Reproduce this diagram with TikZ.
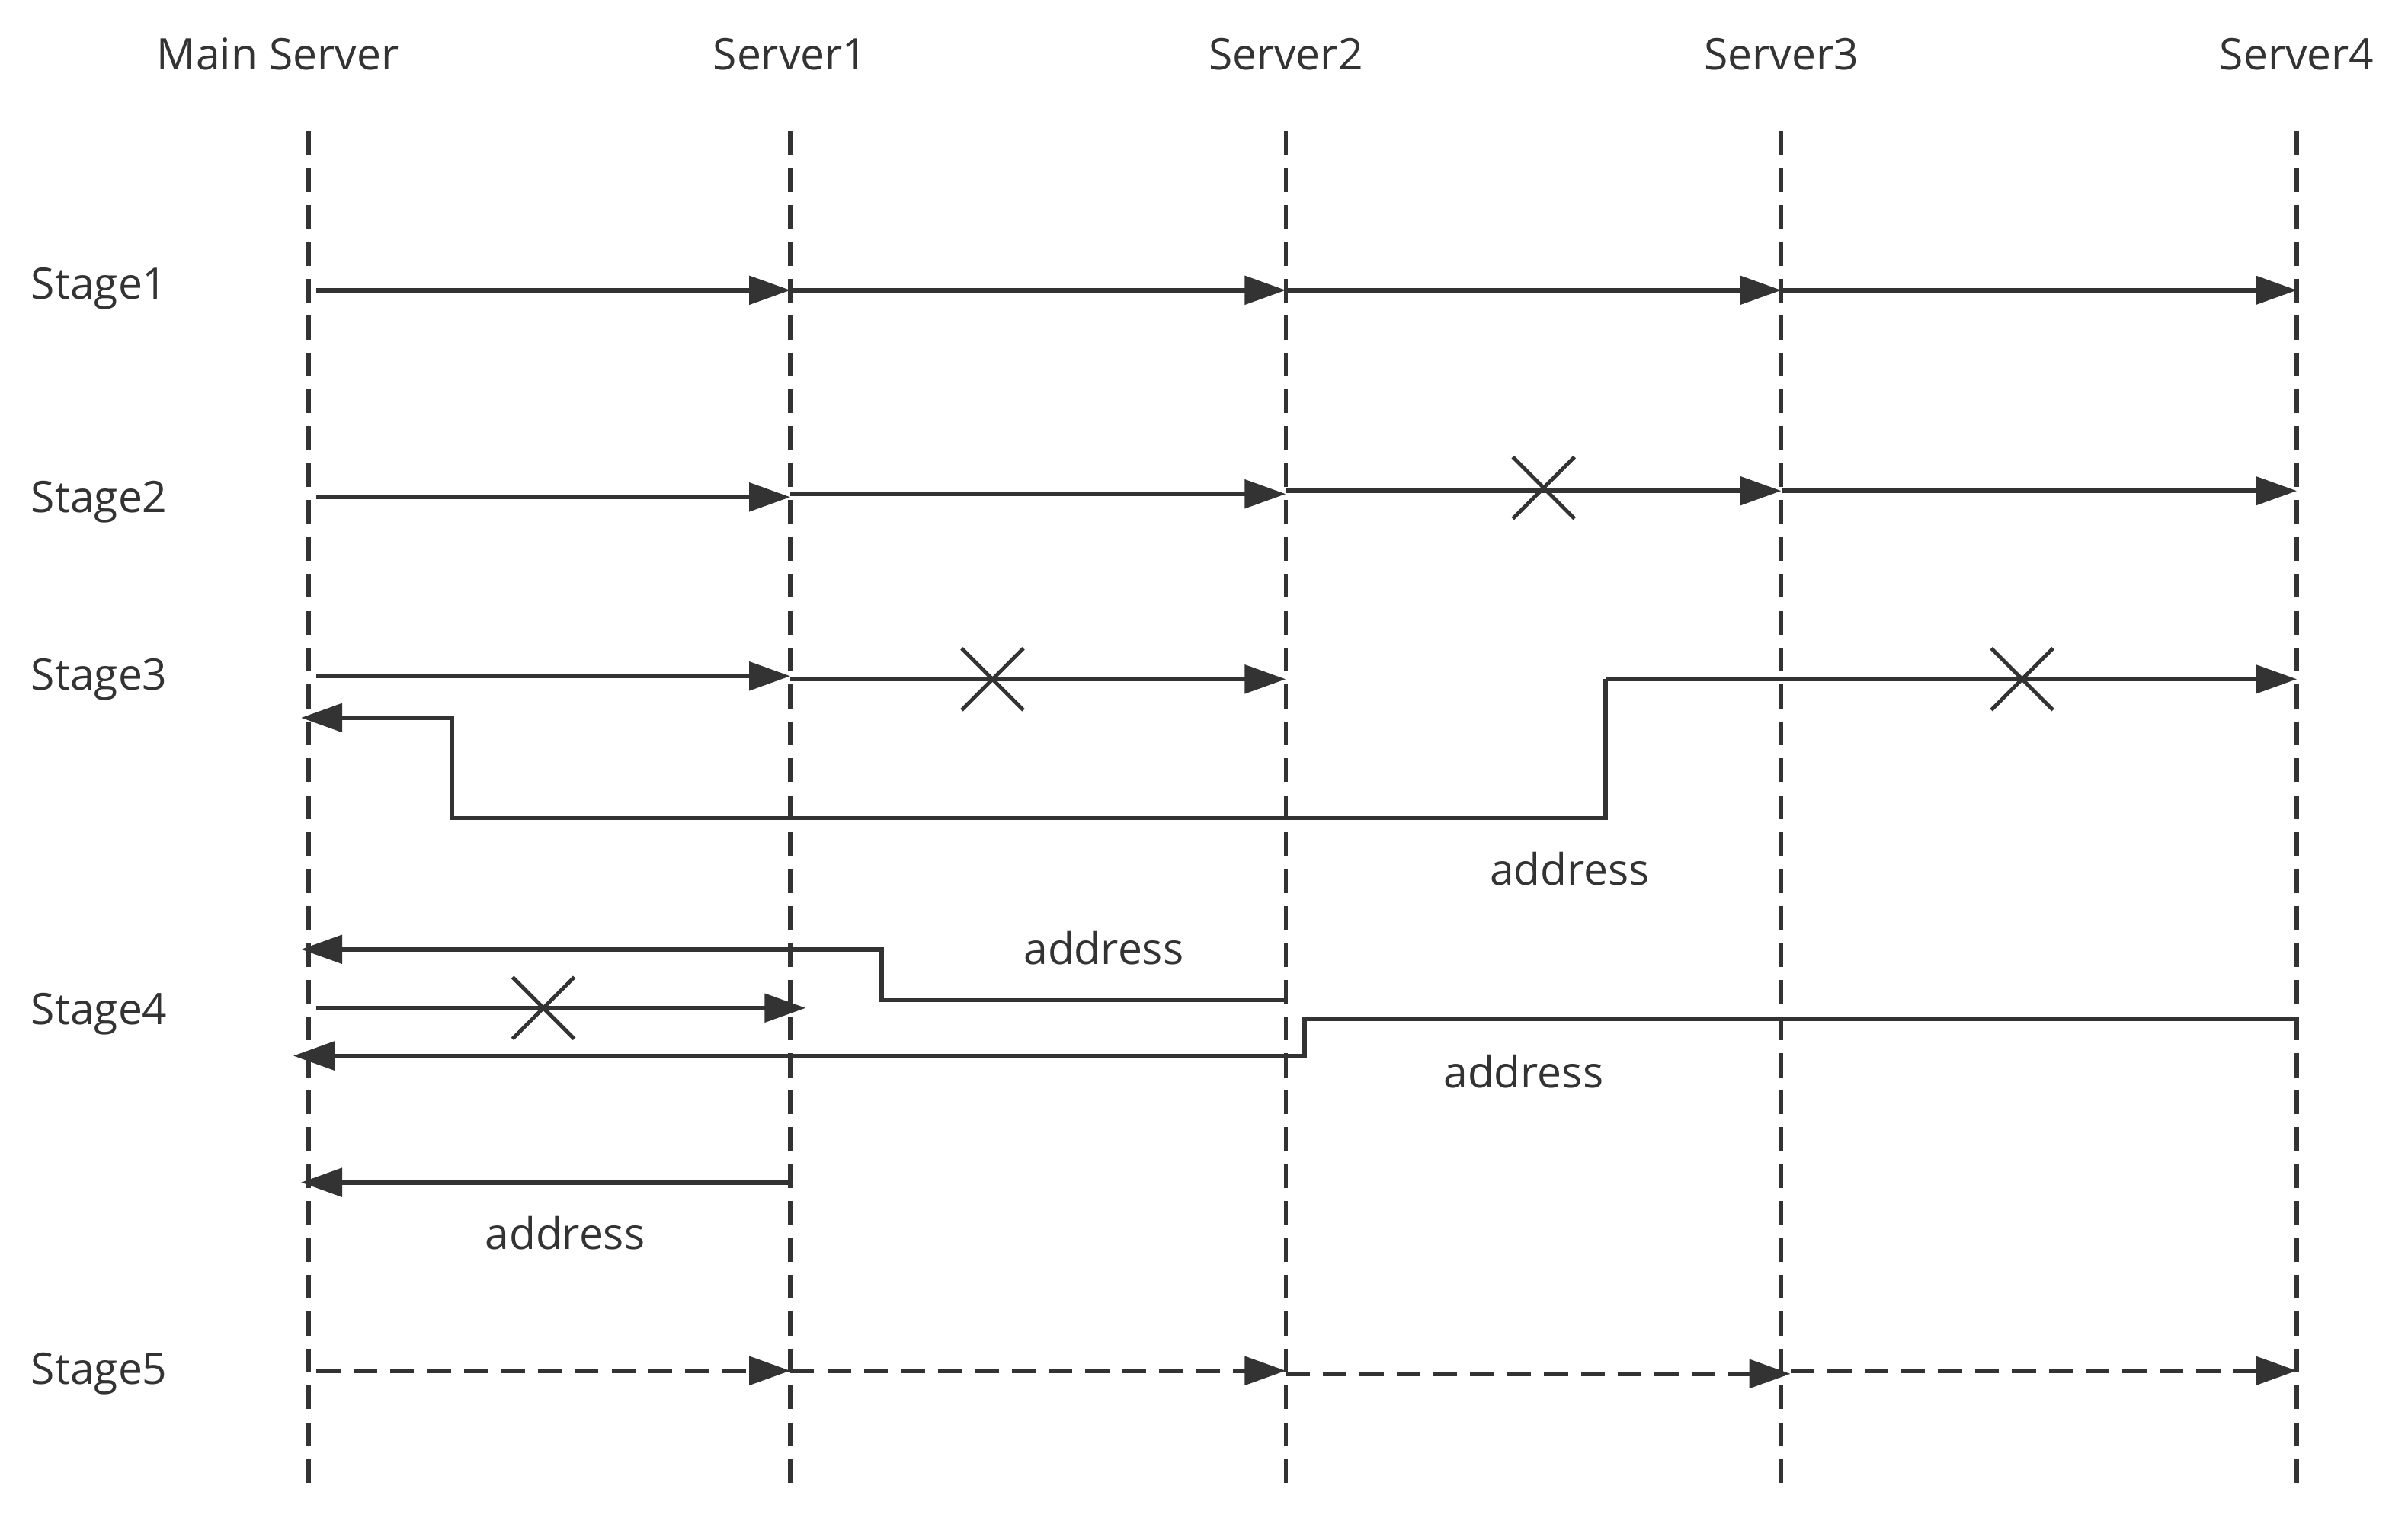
\documentclass[tikz,border=0pt]{standalone}
\usepackage{fontspec}
\setmainfont{Open Sans}
\usetikzlibrary{arrows.meta}
\definecolor{ink}{HTML}{333333}
\begin{document}
\begin{tikzpicture}[x=0.05cm,y=-0.05cm,
  ln/.style={line width=4pt,draw=ink},
  life/.style={line width=4pt,draw=ink,dash pattern=on 22pt off 12pt},
  arr/.style={ln,-{Triangle[length=38pt,width=26pt]}},
  darr/.style={arr,dash pattern=on 22pt off 12pt},
  lbl/.style={font=\fontsize{40}{48}\selectfont,text=ink,inner sep=0pt},
  cross/.style={ln,line width=3.5pt}]
\useasboundingbox (0,0) rectangle (1560,985);
% headers
\node[lbl] (hM) at (180,35) {Main Server};
\foreach \n/\x in {1/512,2/833,3/1154,4/1488}{
  \node[lbl] (h\n) at (\x,35) {Server\n};
}
% lifelines
\foreach \n/\x in {0/200,1/512,2/833,3/1154,4/1488}{
  \coordinate (t\n) at (\x,85); \coordinate (b\n) at (\x,965);
  \draw[life] (t\n) -- (b\n);
}
% stage labels
\foreach \s/\y in {1/187,2/325,3/440,4/657,5/890}{
  \node[lbl,anchor=west] (st\s) at (20,\y) {Stage\s};
}
\newcommand{\xmark}[2]{\draw[cross] (#1-20,#2-20) -- (#1+20,#2+20) (#1-20,#2+20) -- (#1+20,#2-20);}
% Stage1
\draw[arr] (205,188) -- (512,188);
\draw[arr] (512,188) -- (833,188);
\draw[arr] (833,188) -- (1154,188);
\draw[arr] (1154,188) -- (1488,188);
% Stage2
\draw[arr] (205,322) -- (512,322);
\draw[arr] (512,320) -- (833,320);
\draw[arr] (833,318) -- (1154,318);
\draw[arr] (1154,318) -- (1488,318);
\xmark{1000}{316}
% Stage3
\draw[arr] (205,438) -- (512,438);
\draw[arr] (512,440) -- (833,440);
\xmark{643}{440}
\draw[arr] (1040,440) -- (1488,440);
\xmark{1310}{440}
\draw[arr] (1040,440) -- (1040,530) -- (293,530) -- (293,465) -- (195,465);
\node[lbl] (a1) at (1017,563) {address};
% Stage4
\draw[arr] (833,648) -- (571,648) -- (571,615) -- (195,615);
\node[lbl] (a2) at (715,614) {address};
\draw[arr] (205,653) -- (522,653);
\xmark{352}{653}
\draw[arr] (1488,660) -- (845,660) -- (845,684) -- (190,684);
\node[lbl] (a3) at (987,694) {address};
\draw[arr] (512,766) -- (195,766);
\node[lbl] (a4) at (366,799) {address};
% Stage5
\draw[darr] (205,888) -- (512,888);
\draw[darr] (512,888) -- (833,888);
\draw[darr] (833,890) -- (1160,890);
\draw[darr] (1160,888) -- (1488,888);
\end{tikzpicture}
\end{document}
